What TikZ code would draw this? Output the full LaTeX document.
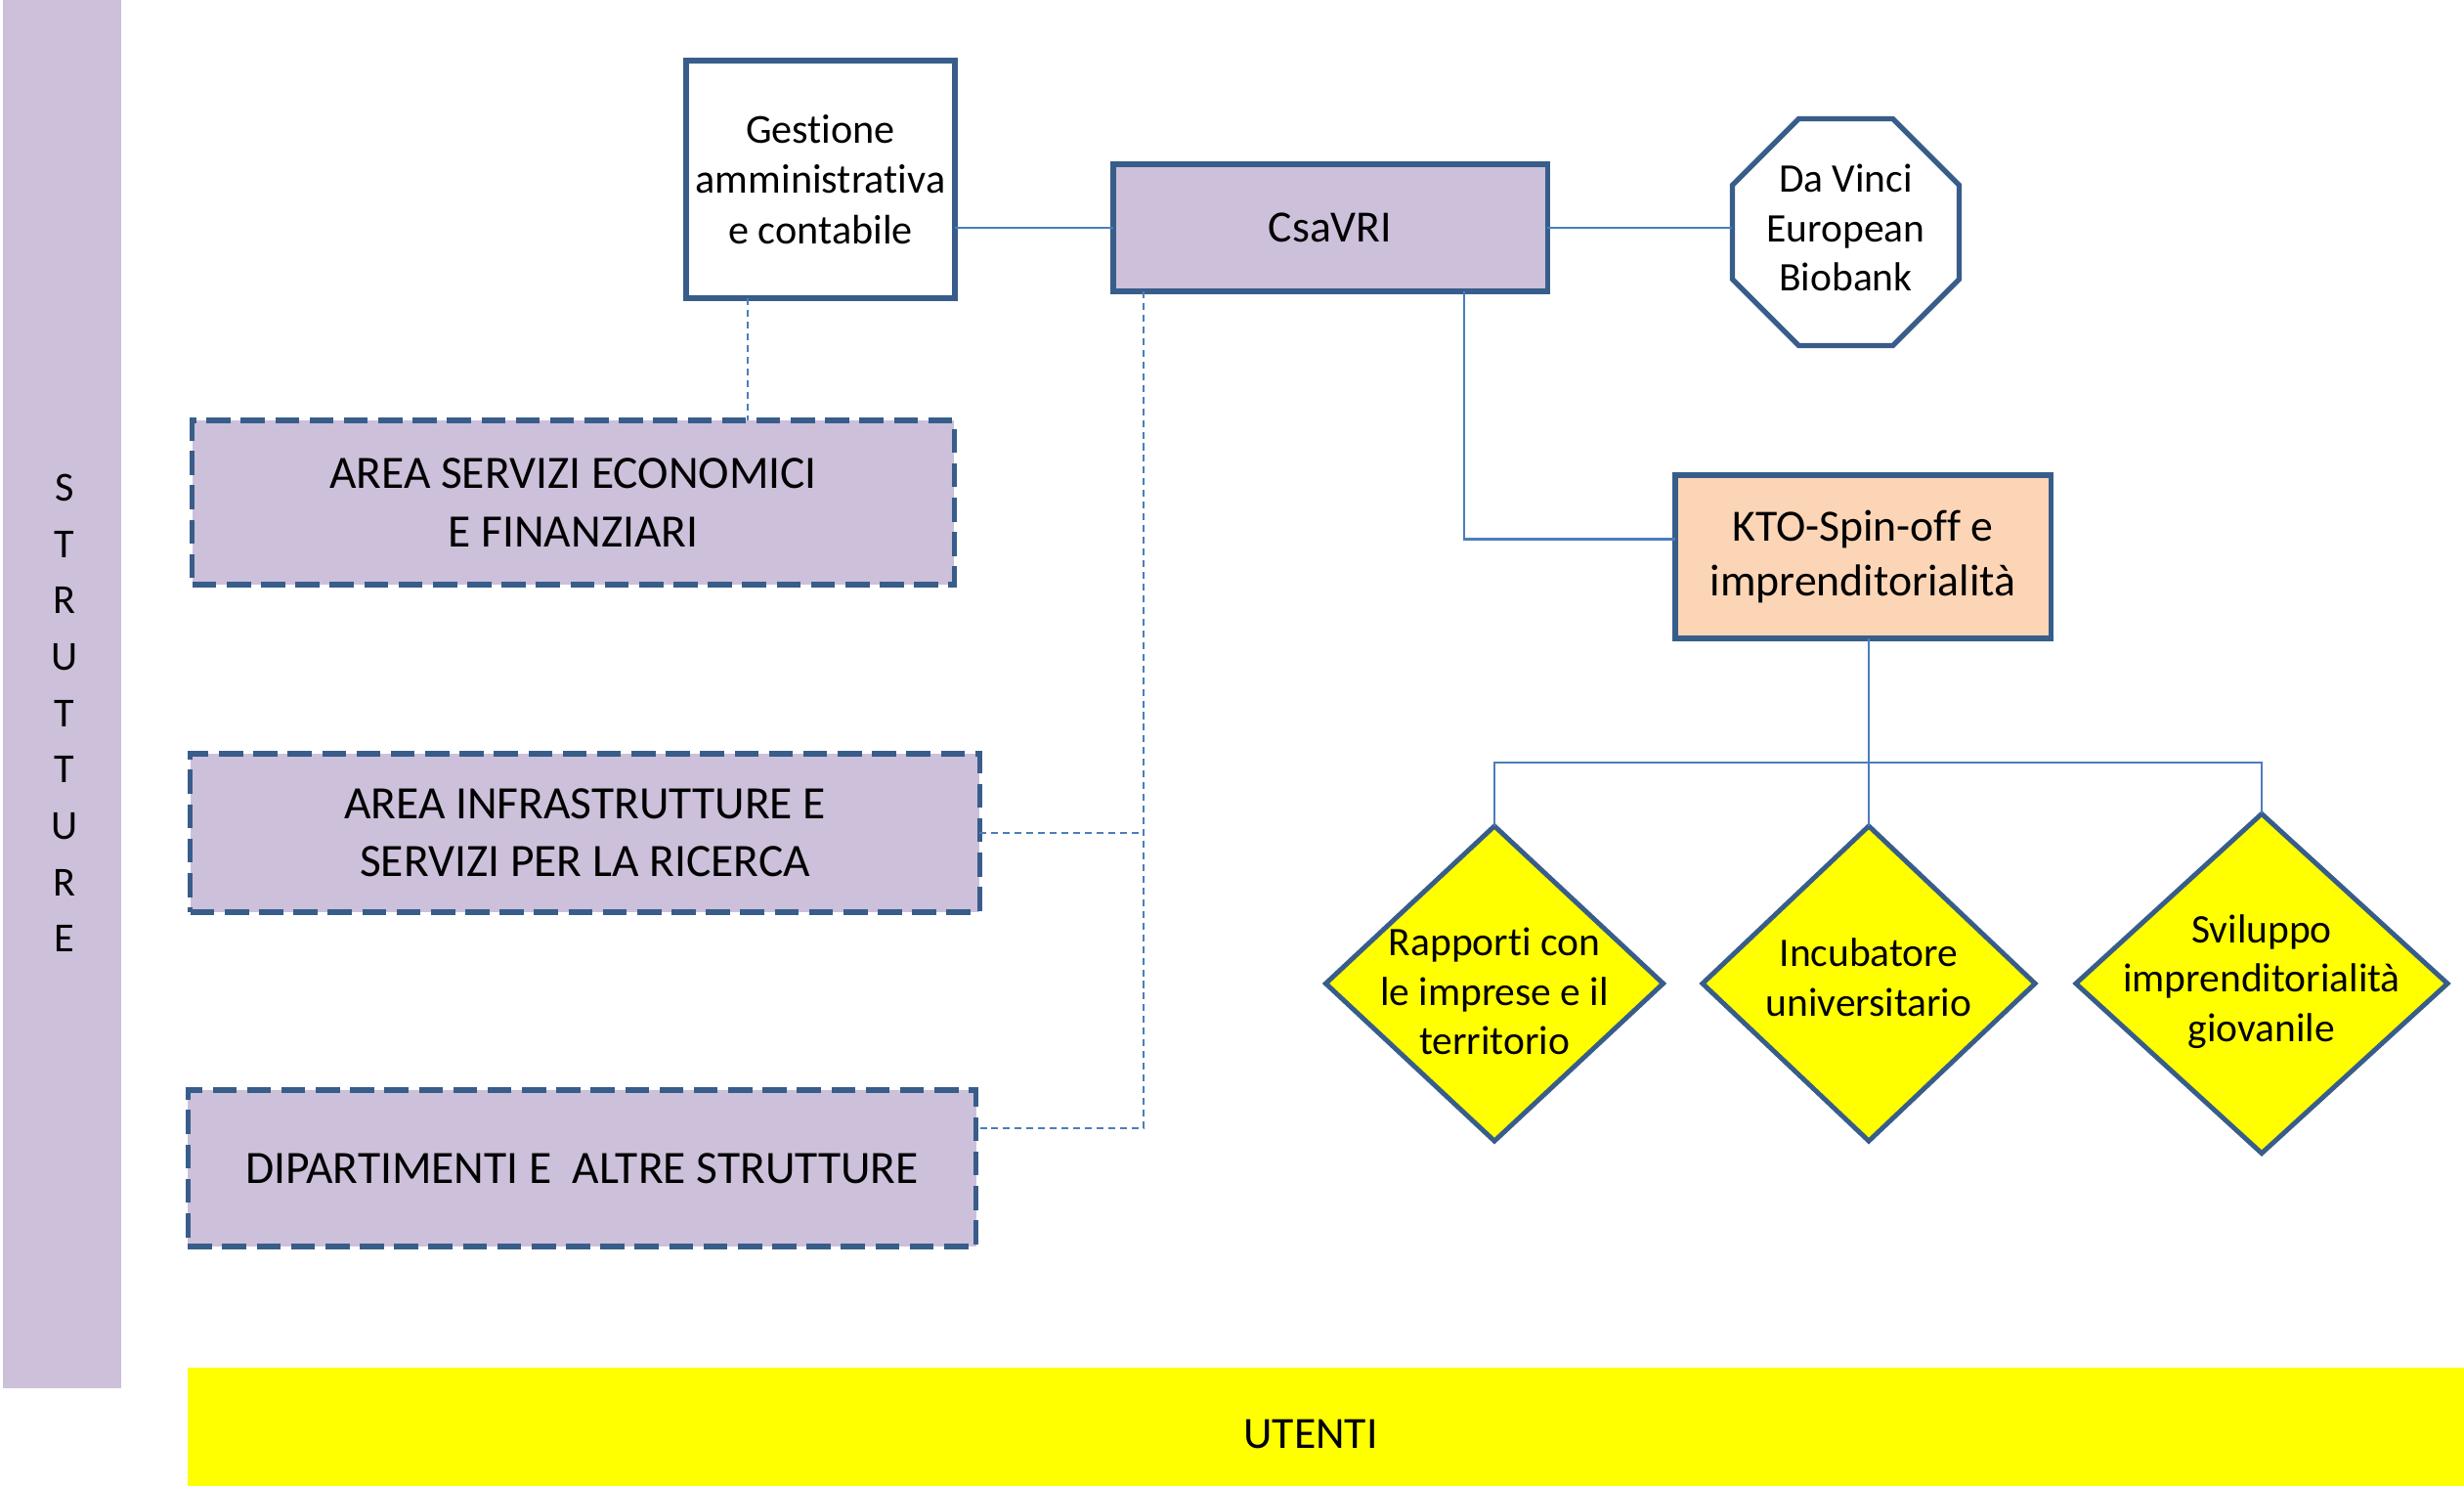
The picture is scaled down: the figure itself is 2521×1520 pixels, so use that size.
\documentclass[tikz,border=0pt]{standalone}
\usepackage{fontspec}
\setmainfont{Carlito}[Ligatures=NoCommon]
\usetikzlibrary{shapes.geometric,calc}
\definecolor{lav}{HTML}{CCC0DA}
\definecolor{bord}{HTML}{385D8A}
\definecolor{peach}{HTML}{FBD5B5}
\definecolor{ylw}{HTML}{FFFF00}
\definecolor{lnk}{HTML}{4A7EBB}
\begin{document}
\begin{tikzpicture}[x=0.01cm,y=-0.01cm,
  box/.style={draw=bord, line width=1.5pt, inner sep=0pt, outer sep=0pt, align=center},
  dbox/.style={draw=bord, line width=1.5pt, dash pattern=on 7pt off 3pt, fill=lav, inner sep=0pt, outer sep=0pt, align=center, font=\fontsize{13.5}{16.9}\selectfont},
  conn/.style={draw=lnk, line width=0.6pt},
  dconn/.style={draw=lnk, line width=0.6pt, dash pattern=on 2pt off 1.4pt},
  dia/.style={diamond, draw=bord, line width=1.4pt, fill=ylw, inner sep=0pt, outer sep=0pt},
  diatext/.style={align=center, font=\fontsize{11.8}{14.4}\selectfont},
]
\useasboundingbox (0,0) rectangle (2521,1520);

% side bars
\node (strut) [fill=lav, minimum width=1.21cm, minimum height=14.2cm, inner sep=0pt] at (63.5,710) {};
\node (strutt) [font=\fontsize{12}{16.4}\selectfont, align=center] at (66,729.5) {S\\T\\R\\U\\T\\T\\U\\R\\E};
\node (ut) [fill=ylw, minimum width=23.28cm, minimum height=1.21cm, inner sep=0pt] at (1357,1459.5) {};
\node (utt) [font=\fontsize{13}{16}\selectfont] at (1341,1467) {UTENTI};

% top row
\node (gest) [box, fill=white, minimum width=2.75cm, minimum height=2.43cm, font=\fontsize{12}{14.65}\selectfont] at (839.5,183.5) {Gestione\\amministrativa\\e contabile};
\node (cs) [box, fill=lav, minimum width=4.44cm, minimum height=1.30cm, font=\fontsize{13}{16}\selectfont] at (1361,233) {CsaVRI};
\node (dv) [regular polygon, regular polygon sides=8, minimum size=2.51cm, draw=bord, line width=1.5pt, fill=white, inner sep=0pt, outer sep=0pt] at (1888.5,237.5) {};
\node (dvt) [align=center, font=\fontsize{11.8}{14.4}\selectfont] at (1888.5,233) {Da Vinci\\European\\Biobank};

% left areas
\node (a1) [dbox, minimum width=7.79cm, minimum height=1.68cm] at (586.5,514) {AREA SERVIZI ECONOMICI\\E FINANZIARI};
\node (a2) [dbox, minimum width=8.07cm, minimum height=1.62cm] at (598.5,852) {AREA INFRASTRUTTURE E\\SERVIZI PER LA RICERCA};
\node (a3) [dbox, minimum width=8.06cm, minimum height=1.60cm] at (595.5,1195) {DIPARTIMENTI E \ ALTRE STRUTTURE};

% KTO
\node (kto) [box, fill=peach, minimum width=3.84cm, minimum height=1.67cm, font=\fontsize{13}{15.9}\selectfont] at (1906,569.5) {KTO-Spin-off e\\imprenditorialità};

% diamonds
\node (d1) [dia, minimum width=3.45cm, minimum height=3.22cm] at (1529,1006) {};
\node (d2) [dia, minimum width=3.40cm, minimum height=3.22cm] at (1912,1006) {};
\node (d3) [dia, minimum width=3.80cm, minimum height=3.47cm] at (2314,1006) {};
\node (d1t) [diatext] at (1529,1014) {Rapporti con\\le imprese e il\\territorio};
\node (d2t) [diatext] at (1912,1000) {Incubatore\\universitario};
\node (d3t) [diatext] at (2314,1004) {Sviluppo\\imprenditorialità\\giovanile};

% connectors
\draw[conn] (cs.west -| gest.east) -- (cs.west);
\draw[conn] (cs.east) -- (cs.east -| dv.west);
\draw[dconn] ([xshift=0.63cm]gest.south west) -- ([xshift=0.63cm]gest.south west |- a1.north);
\coordinate (vd) at ([xshift=0.31cm]cs.south west);
\draw[dconn] (vd) |- ([yshift=0.41cm]a3.east);
\draw[dconn] (a2.east) -- (a2.east -| vd);
\draw[conn] ([xshift=-0.85cm]cs.south east) |- ([yshift=0.18cm]kto.west);
\coordinate (bus) at (1912,780);
\draw[conn] (d2.north |- kto.south) -- (d2.north);
\draw[conn] (d1.north) |- (bus) -| (d3.north);
\end{tikzpicture}
\end{document}
